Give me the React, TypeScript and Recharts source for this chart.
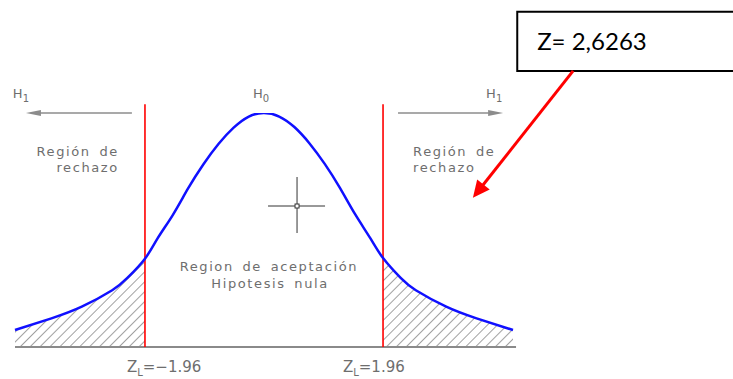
import React from 'react';
import { ComposedChart, Line, Area, XAxis, YAxis, ReferenceLine, ReferenceDot, ReferenceArea } from 'recharts';

// z positions along the axis and curve heights
const zValues = [-4.1, -3.5, -3.0, -2.5, -2.25, -1.96, -1.75, -1.5, -1.25, -1.0, -0.75, -0.5, -0.25, 0, 0.25, 0.5, 0.75, 1.0, 1.25, 1.5, 1.75, 1.96, 2.25, 2.5, 3.0, 3.5, 4.1];
const density = [0.029, 0.049, 0.069, 0.097, 0.118, 0.151, 0.186, 0.226, 0.271, 0.312, 0.347, 0.375, 0.394, 0.4, 0.394, 0.376, 0.348, 0.313, 0.272, 0.227, 0.186, 0.152, 0.118, 0.097, 0.069, 0.049, 0.029];
const critical = [-1.96, 1.96];
const zLabels = ['Z', 'L', '=\u22121.96', 'Z', 'L', '=1.96'];
const zObserved = 'Z= 2,6263';

const data = zValues.map((z, i) => ({
  z,
  density: density[i],
  leftTail: z <= critical[0] ? density[i] : null,
  rightTail: z >= critical[1] ? density[i] : null,
}));

const GRAY = '#6e6e6e';
const FONT = '"DejaVu Sans", sans-serif';

const textAt = (key: string, x: number, y: number, content: React.ReactNode, anchor = 'start', size = 13, extra: any = {}) => (
  <ReferenceDot
    key={key}
    x={x}
    y={y}
    r={0}
    ifOverflow="visible"
    shape={(p: any) => (
      <text x={p.cx} y={p.cy} textAnchor={anchor} fontSize={size} fill={GRAY} fontFamily={FONT} {...extra}>
        {content}
      </text>
    )}
  />
);

const arrow = (key: string, from: [number, number], to: [number, number], color: string, width: number, len: number, half: number) => (
  <ReferenceLine
    key={key}
    segment={[{ x: from[0], y: from[1] }, { x: to[0], y: to[1] }]}
    ifOverflow="visible"
    shape={(p: any) => {
      const dx = p.x2 - p.x1;
      const dy = p.y2 - p.y1;
      const d = Math.sqrt(dx * dx + dy * dy) || 1;
      const ux = dx / d;
      const uy = dy / d;
      const bx = p.x2 - ux * len;
      const by = p.y2 - uy * len;
      const pts = `${p.x2},${p.y2} ${bx - uy * half},${by + ux * half} ${bx + uy * half},${by - ux * half}`;
      return (
        <g>
          <line x1={p.x1} y1={p.y1} x2={bx + ux * 2} y2={by + uy * 2} stroke={color} strokeWidth={width} />
          <polygon points={pts} fill={color} />
        </g>
      );
    }}
  />
);

const sub = (main: string, s: string, rest = '') => (
  <>
    {main}
    <tspan dy={4} fontSize={10}>{s}</tspan>
    <tspan dy={-4}>{rest}</tspan>
  </>
);

const wide = { letterSpacing: 1.6, wordSpacing: 3 };

export default function App() {
  return (
    <div style={{ position: 'absolute', left: 0, top: 0, width: 733, height: 379, background: '#fff' }}>
      <svg width={0} height={0} style={{ position: 'absolute' }}>
        <defs>
          <pattern id="hatch" width={7} height={7} patternUnits="userSpaceOnUse" patternTransform="rotate(45)">
            <line x1={0} y1={0} x2={0} y2={7} stroke="#444" strokeWidth={1} />
          </pattern>
        </defs>
      </svg>
      <ComposedChart width={733} height={379} data={data} margin={{ top: 113, right: 220, bottom: 32, left: 15 }}>
        <XAxis dataKey="z" type="number" domain={[-4.1, 4.1]} hide />
        <YAxis type="number" domain={[0, 0.4]} hide allowDataOverflow />
        <Area dataKey="leftTail" type="natural" stroke="none" fill="url(#hatch)" fillOpacity={1} isAnimationActive={false} />
        <Area dataKey="rightTail" type="natural" stroke="none" fill="url(#hatch)" fillOpacity={1} isAnimationActive={false} />
        <ReferenceLine segment={[{ x: -4.1, y: 0 }, { x: 4.15, y: 0 }]} stroke="#8a8a8a" strokeWidth={2} ifOverflow="visible" />
        {critical.map((c) => (
          <ReferenceLine key={c} segment={[{ x: c, y: 0 }, { x: c, y: 0.415 }]} stroke="#ff0000" strokeWidth={1.6} ifOverflow="visible" />
        ))}
        <Line dataKey="density" type="natural" stroke="#1010ff" strokeWidth={2.5} dot={false} isAnimationActive={false} />

        {arrow('h1l', [-2.175, 0.4], [-3.92, 0.4], '#8c8c8c', 1.5, 15, 3)}
        {arrow('h1r', [2.207, 0.4], [3.937, 0.4], '#8c8c8c', 1.5, 15, 3)}

        {textAt('h1a', -4.135, 0.426, sub('H', '1'), 'start', 13)}
        {textAt('h0', -0.18, 0.426, sub('H', '0'), 'start', 13)}
        {textAt('h1b', 3.657, 0.426, sub('H', '1'), 'start', 13)}

        {textAt('rl1', -2.39, 0.326, 'Región de', 'end', 13, wide)}
        {textAt('rl2', -2.39, 0.299, 'rechazo', 'end', 13, wide)}
        {textAt('rr1', 2.455, 0.326, 'Región de', 'start', 13, wide)}
        {textAt('rr2', 2.455, 0.299, 'rechazo', 'start', 13, wide)}
        {textAt('ac1', 0.08, 0.13, 'Region de aceptación', 'middle', 13, wide)}
        {textAt('ac2', 0.1, 0.101, 'Hipotesis nula', 'middle', 13, wide)}

        {textAt('zl1', -2.257, -0.043, sub(zLabels[0], zLabels[1], zLabels[2]), 'start', 15)}
        {textAt('zl2', 1.3, -0.043, sub(zLabels[3], zLabels[4], zLabels[5]), 'start', 15)}

        <ReferenceDot
          x={0.544}
          y={0.241}
          r={0}
          ifOverflow="visible"
          shape={(p: any) => (
            <g stroke="#333" strokeWidth={1}>
              <line x1={p.cx - 29} y1={p.cy} x2={p.cx + 28} y2={p.cy} />
              <line x1={p.cx} y1={p.cy - 29} x2={p.cx} y2={p.cy + 27} />
              <rect x={p.cx - 2} y={p.cy - 2} width={4} height={4} fill="#fff" />
            </g>
          )}
        />

        <ReferenceArea x1={4.17} x2={7.95} y1={0.472} y2={0.573} fill="#fff" fillOpacity={1} stroke="#000" strokeWidth={2} ifOverflow="visible" />
        {textAt('zobs', 4.498, 0.508, zObserved, 'start', 24, { fill: '#000', fontFamily: 'Lato, "Open Sans", sans-serif' })}
        {arrow('red', [5.09, 0.472], [3.44, 0.255], '#ff0000', 3, 17, 8)}
      </ComposedChart>
    </div>
  );
}
